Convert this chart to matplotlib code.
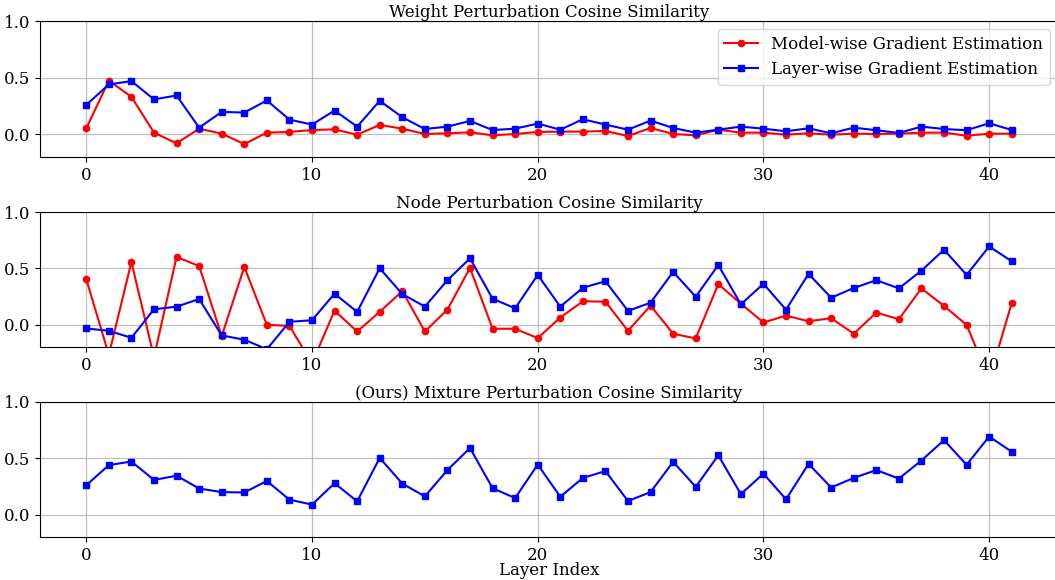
import numpy as np
import matplotlib
matplotlib.use("Agg")
import matplotlib.pyplot as plt

plt.rcParams['font.family'] = ['DejaVu Serif']

layers = list(range(42))

weight_model = [0.053, 0.473, 0.331, 0.015, -0.080, 0.050, 0.006, -0.086, 0.015, 0.021,
                0.038, 0.044, -0.003, 0.083, 0.050, 0.003, 0.009, 0.018, -0.009, 0.003,
                0.021, 0.024, 0.024, 0.030, -0.015, 0.056, 0.003, -0.009, 0.041, 0.015,
                0.015, -0.003, 0.009, -0.003, 0.006, 0.003, 0.006, 0.015, 0.015, -0.012,
                0.006, 0.006]
weight_layer = [0.260, 0.440, 0.470, 0.308, 0.343, 0.059, 0.198, 0.192, 0.299, 0.130,
                0.086, 0.210, 0.068, 0.296, 0.151, 0.047, 0.068, 0.118, 0.038, 0.050,
                0.095, 0.041, 0.133, 0.086, 0.041, 0.121, 0.056, 0.015, 0.041, 0.068,
                0.050, 0.027, 0.053, 0.009, 0.059, 0.036, 0.012, 0.068, 0.047, 0.036,
                0.098, 0.038]

node_model = [0.403, -0.270, 0.556, -0.290, 0.600, 0.520, -0.103, 0.512, -0.003, -0.012,
              -0.345, 0.124, -0.062, 0.112, 0.297, -0.062, 0.132, 0.503, -0.038, -0.038,
              -0.121, 0.062, 0.206, 0.203, -0.056, 0.168, -0.082, -0.124, 0.359, 0.185,
              0.018, 0.079, 0.029, 0.056, -0.082, 0.106, 0.047, 0.321, 0.165, -0.003,
              -0.490, 0.191]
node_layer = [-0.035, -0.056, -0.118, 0.135, 0.159, 0.226, -0.097, -0.135, -0.220, 0.024,
              0.038, 0.274, 0.112, 0.500, 0.271, 0.159, 0.394, 0.588, 0.229, 0.144,
              0.441, 0.159, 0.326, 0.385, 0.121, 0.194, 0.468, 0.247, 0.529, 0.179,
              0.362, 0.132, 0.450, 0.238, 0.324, 0.394, 0.321, 0.479, 0.665, 0.441,
              0.694, 0.562]

mixture = [0.260, 0.439, 0.471, 0.307, 0.345, 0.231, 0.199, 0.196, 0.298, 0.132,
           0.088, 0.278, 0.117, 0.503, 0.275, 0.161, 0.395, 0.591, 0.234, 0.146,
           0.444, 0.158, 0.325, 0.386, 0.120, 0.199, 0.468, 0.246, 0.526, 0.181,
           0.363, 0.135, 0.450, 0.240, 0.325, 0.395, 0.319, 0.480, 0.661, 0.442,
           0.693, 0.558]

titles = ["Weight Perturbation Cosine Similarity",
          "Node Perturbation Cosine Similarity",
          "(Ours) Mixture Perturbation Cosine Similarity"]

W, H = 1055, 580
fig = plt.figure(figsize=(W / 100, H / 100), dpi=100)

left_px, right_px = 40, 1058
panels_px = [(21, 157), (212, 347), (402, 537)]
axes = []
for top, bot in panels_px:
    ax = fig.add_axes([left_px / W, 1 - bot / H, (right_px - left_px) / W, (bot - top) / H])
    axes.append(ax)

fs = 12
for i, ax in enumerate(axes):
    if i == 0:
        ax.plot(layers, weight_model, '-o', color='red', lw=1.5, ms=4.5,
                label='Model-wise Gradient Estimation')
        ax.plot(layers, weight_layer, '-s', color='blue', lw=1.5, ms=4.5,
                label='Layer-wise Gradient Estimation')
        ax.legend(loc='upper right', fontsize=fs, framealpha=0.8,
                  borderaxespad=0.5, handlelength=2.0)
    elif i == 1:
        ax.plot(layers, node_model, '-o', color='red', lw=1.5, ms=4.5)
        ax.plot(layers, node_layer, '-s', color='blue', lw=1.5, ms=4.5)
    else:
        ax.plot(layers, mixture, '-s', color='blue', lw=1.5, ms=4.5)
    ax.set_ylim(-0.2, 1.0)
    ax.set_xlim(-2.05, 43.05)
    ax.set_yticks([0.0, 0.5, 1.0])
    ax.set_xticks([0, 10, 20, 30, 40])
    ax.grid(True, color='#b0b0b0', alpha=0.8, lw=0.9)
    ax.set_axisbelow(True)
    ax.tick_params(labelsize=fs)
    ax.set_title(titles[i], fontsize=fs, pad=3)

axes[2].set_xlabel('Layer Index', fontsize=fs, labelpad=-1)

fig.savefig('out.png', dpi=100)
